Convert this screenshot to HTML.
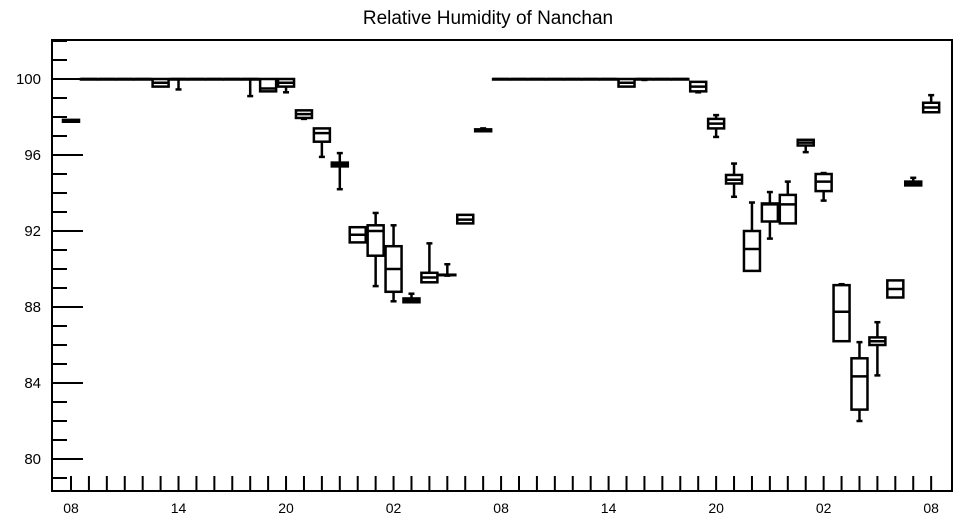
<!DOCTYPE html>
<html><head><meta charset="utf-8"><style>
html,body{margin:0;padding:0;background:#fff;}
svg{display:block;font-family:"Liberation Sans",Arial,sans-serif;}
</style></head><body>
<svg id="chart" width="957" height="520" viewBox="0 0 957 520" xmlns="http://www.w3.org/2000/svg">
<text x="488" y="24" font-size="19" text-anchor="middle">Relative Humidity of Nanchan</text>
<rect x="52" y="40" width="900" height="451" fill="none" stroke="#000" stroke-width="2"/>
<g id="axes"></g>
<g id="boxes"></g>
</svg>
<script>
const hours = [0,1,2,3,4,5,6,7,8,9,10,11,12,13,14,15,16,17,18,19,20,21,22,23,24,25,26,27,28,29,30,31,32,33,34,35,36,37,38,39,40,41,42,43,44,45,46,47,48];
const q1  = [97.75,100,100,100,100,99.6,100,100,100,100,100,99.35,99.6,97.95,96.7,95.4,91.4,90.7,88.8,88.25,89.3,89.7,92.4,97.25,100,100,100,100,100,100,100,99.6,100,100,100,99.35,97.4,94.5,89.9,92.5,92.4,96.5,94.1,86.2,82.6,86.0,88.5,94.4,98.25];
const q3  = [97.85,100,100,100,100,100,100,100,100,100,100,100,100,98.35,97.4,95.6,92.2,92.3,91.2,88.45,89.8,89.7,92.85,97.35,100,100,100,100,100,100,100,100,100,100,100,99.85,97.9,94.95,92.0,93.45,93.9,96.8,95.0,89.15,85.3,86.4,89.4,94.6,98.75];
const med = [97.8,100,100,100,100,99.8,100,100,100,100,100,99.5,99.8,98.15,97.15,95.5,91.8,92.0,90.0,88.35,89.55,89.7,92.6,97.3,100,100,100,100,100,100,100,99.8,100,100,100,99.6,97.65,94.7,91.05,93.4,93.4,96.65,94.6,87.75,84.35,86.2,88.95,94.5,98.5];
const lo  = [97.75,100,100,100,100,99.6,99.45,100,100,100,99.1,99.35,99.3,97.9,95.9,94.2,91.4,89.1,88.3,88.25,89.3,89.65,92.4,97.25,100,100,100,100,100,100,100,99.6,99.95,100,100,99.3,96.95,93.8,89.9,91.6,92.4,96.15,93.6,86.2,82.0,84.4,88.5,94.4,98.25];
const hi  = [97.85,100,100,100,100,100,100,100,100,100,100,100,100,98.35,97.4,96.1,92.2,92.95,92.3,88.7,91.35,90.25,92.85,97.4,100,100,100,100,100,100,100,100,100,100,100,99.85,98.1,95.55,93.5,94.05,94.6,96.8,95.05,89.2,86.15,87.2,89.4,94.8,99.15];
const yTicks = [80,84,88,92,96,100];
const xTickHours = [0,6,12,18,24,30,36,42,48];
const xTickLabels = ["08","14","20","02","08","14","20","02","08"];

const NS="http://www.w3.org/2000/svg";
const X0=52,X1=952,Y0=40,Y1=491;
function xs(h){return 71+h*17.92;}
function ys(v){return 79+(100-v)*19;}
function mk(tag,attrs,parent){const e=document.createElementNS(NS,tag);for(const k in attrs)e.setAttribute(k,attrs[k]);parent.appendChild(e);return e;}
const axes=document.getElementById('axes');
const boxes=document.getElementById('boxes');
for(let v=79;v<=102;v++){
  const y=ys(v); if(y<Y0||y>Y1)continue;
  const major=(v%4===0);
  const t=mk('line',{x1:X0,x2:X0+(major?31:15),y1:y,y2:y,stroke:'#000','stroke-width':2},axes);
  
  
}
yTicks.forEach(v=>{
  const t=mk('text',{x:41,y:ys(v)+5,'font-size':15,'text-anchor':'end'},axes);
  t.textContent=String(v);
  
  
});
for(let h=0;h<=48;h++){
  const x=xs(h);
  const t=mk('line',{x1:x,x2:x,y1:Y1,y2:Y1-15,stroke:'#000','stroke-width':2},axes);
  
  
}
xTickHours.forEach((h,i)=>{
  const t=mk('text',{x:xs(h),y:513,'font-size':14,'text-anchor':'middle'},axes);
  t.textContent=xTickLabels[i];
  
  
});
hours.forEach((h,i)=>{
  const x=xs(h),w=16;
  const g=mk('g',{stroke:'#000','stroke-width':2.5,fill:'none'},boxes);
  
  
  const yt=ys(q3[i]),yb=ys(q1[i]);
  mk('line',{x1:x,x2:x,y1:ys(hi[i]),y2:yt},g);
  mk('line',{x1:x,x2:x,y1:yb,y2:ys(lo[i])},g);
  if(hi[i]>q3[i]) mk('line',{x1:x-3,x2:x+3,y1:ys(hi[i]),y2:ys(hi[i])},g);
  if(lo[i]<q1[i]) mk('line',{x1:x-3,x2:x+3,y1:ys(lo[i]),y2:ys(lo[i])},g);
  mk('rect',{x:x-w/2,y:yt,width:w,height:Math.max(yb-yt,0.5)},g);
  mk('line',{x1:x-w/2,x2:x+w/2,y1:ys(med[i]),y2:ys(med[i])},g);
});
</script>
</body></html>
